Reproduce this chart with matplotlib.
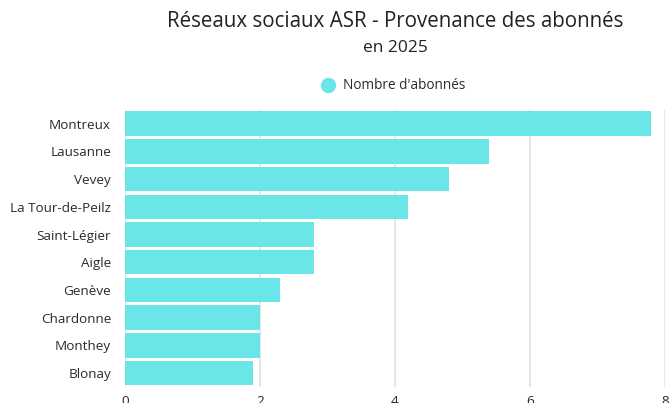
import matplotlib.pyplot as plt
from matplotlib.lines import Line2D

# données
communes = ['Montreux', 'Lausanne', 'Vevey', 'La Tour-de-Peilz', 'Saint-Légier',
            'Aigle', 'Genève', 'Chardonne', 'Monthey', 'Blonay']
abonnes = [7.8, 5.4, 4.8, 4.2, 2.8, 2.8, 2.3, 2.0, 2.0, 1.9]
x_ticks = [0, 2, 4, 6, 8]

bar_color = '#6ae5e8'
text_color = '#2b2b2b'

plt.rcParams['font.family'] = ['Open Sans', 'DejaVu Sans']

fig = plt.figure(figsize=(6.69, 4.03), dpi=100)
ax = fig.add_axes([0.1868, 0.0397, 0.807, 0.688])

y = list(range(len(communes)))
ax.barh(y, abonnes, height=0.88, color=bar_color, zorder=3)
ax.set_yticks(y)
ax.set_yticklabels(communes, fontsize=9.7, color=text_color)
ax.set_ylim(len(communes) - 0.5, -0.5)

ax.set_xlim(0, 8)
ax.set_xticks(x_ticks)
ax.set_xticklabels([str(t) for t in x_ticks], fontsize=9.7, color=text_color)
ax.xaxis.grid(True, color='#e2e2e2', linewidth=1.2, zorder=0)
ax.tick_params(axis='both', length=0, pad=6)
ax.tick_params(axis='y', pad=10)
for s in ax.spines.values():
    s.set_visible(False)

fig.text(0.591, 0.947, 'Réseaux sociaux ASR - Provenance des abonnés',
         ha='center', va='center', fontsize=14.8, color='#222222')
fig.text(0.591, 0.880, 'en 2025', ha='center', va='center', fontsize=12.5, color='#222222')

handle = Line2D([], [], marker='o', linestyle='', markersize=10,
                markerfacecolor=bar_color, markeredgecolor=bar_color)
fig.legend([handle], ["Nombre d'abonnés"], loc='center', bbox_to_anchor=(0.583, 0.787),
           frameon=False, fontsize=9.8, handletextpad=0.1, labelcolor=text_color)

fig.savefig('out.png', dpi=100)
